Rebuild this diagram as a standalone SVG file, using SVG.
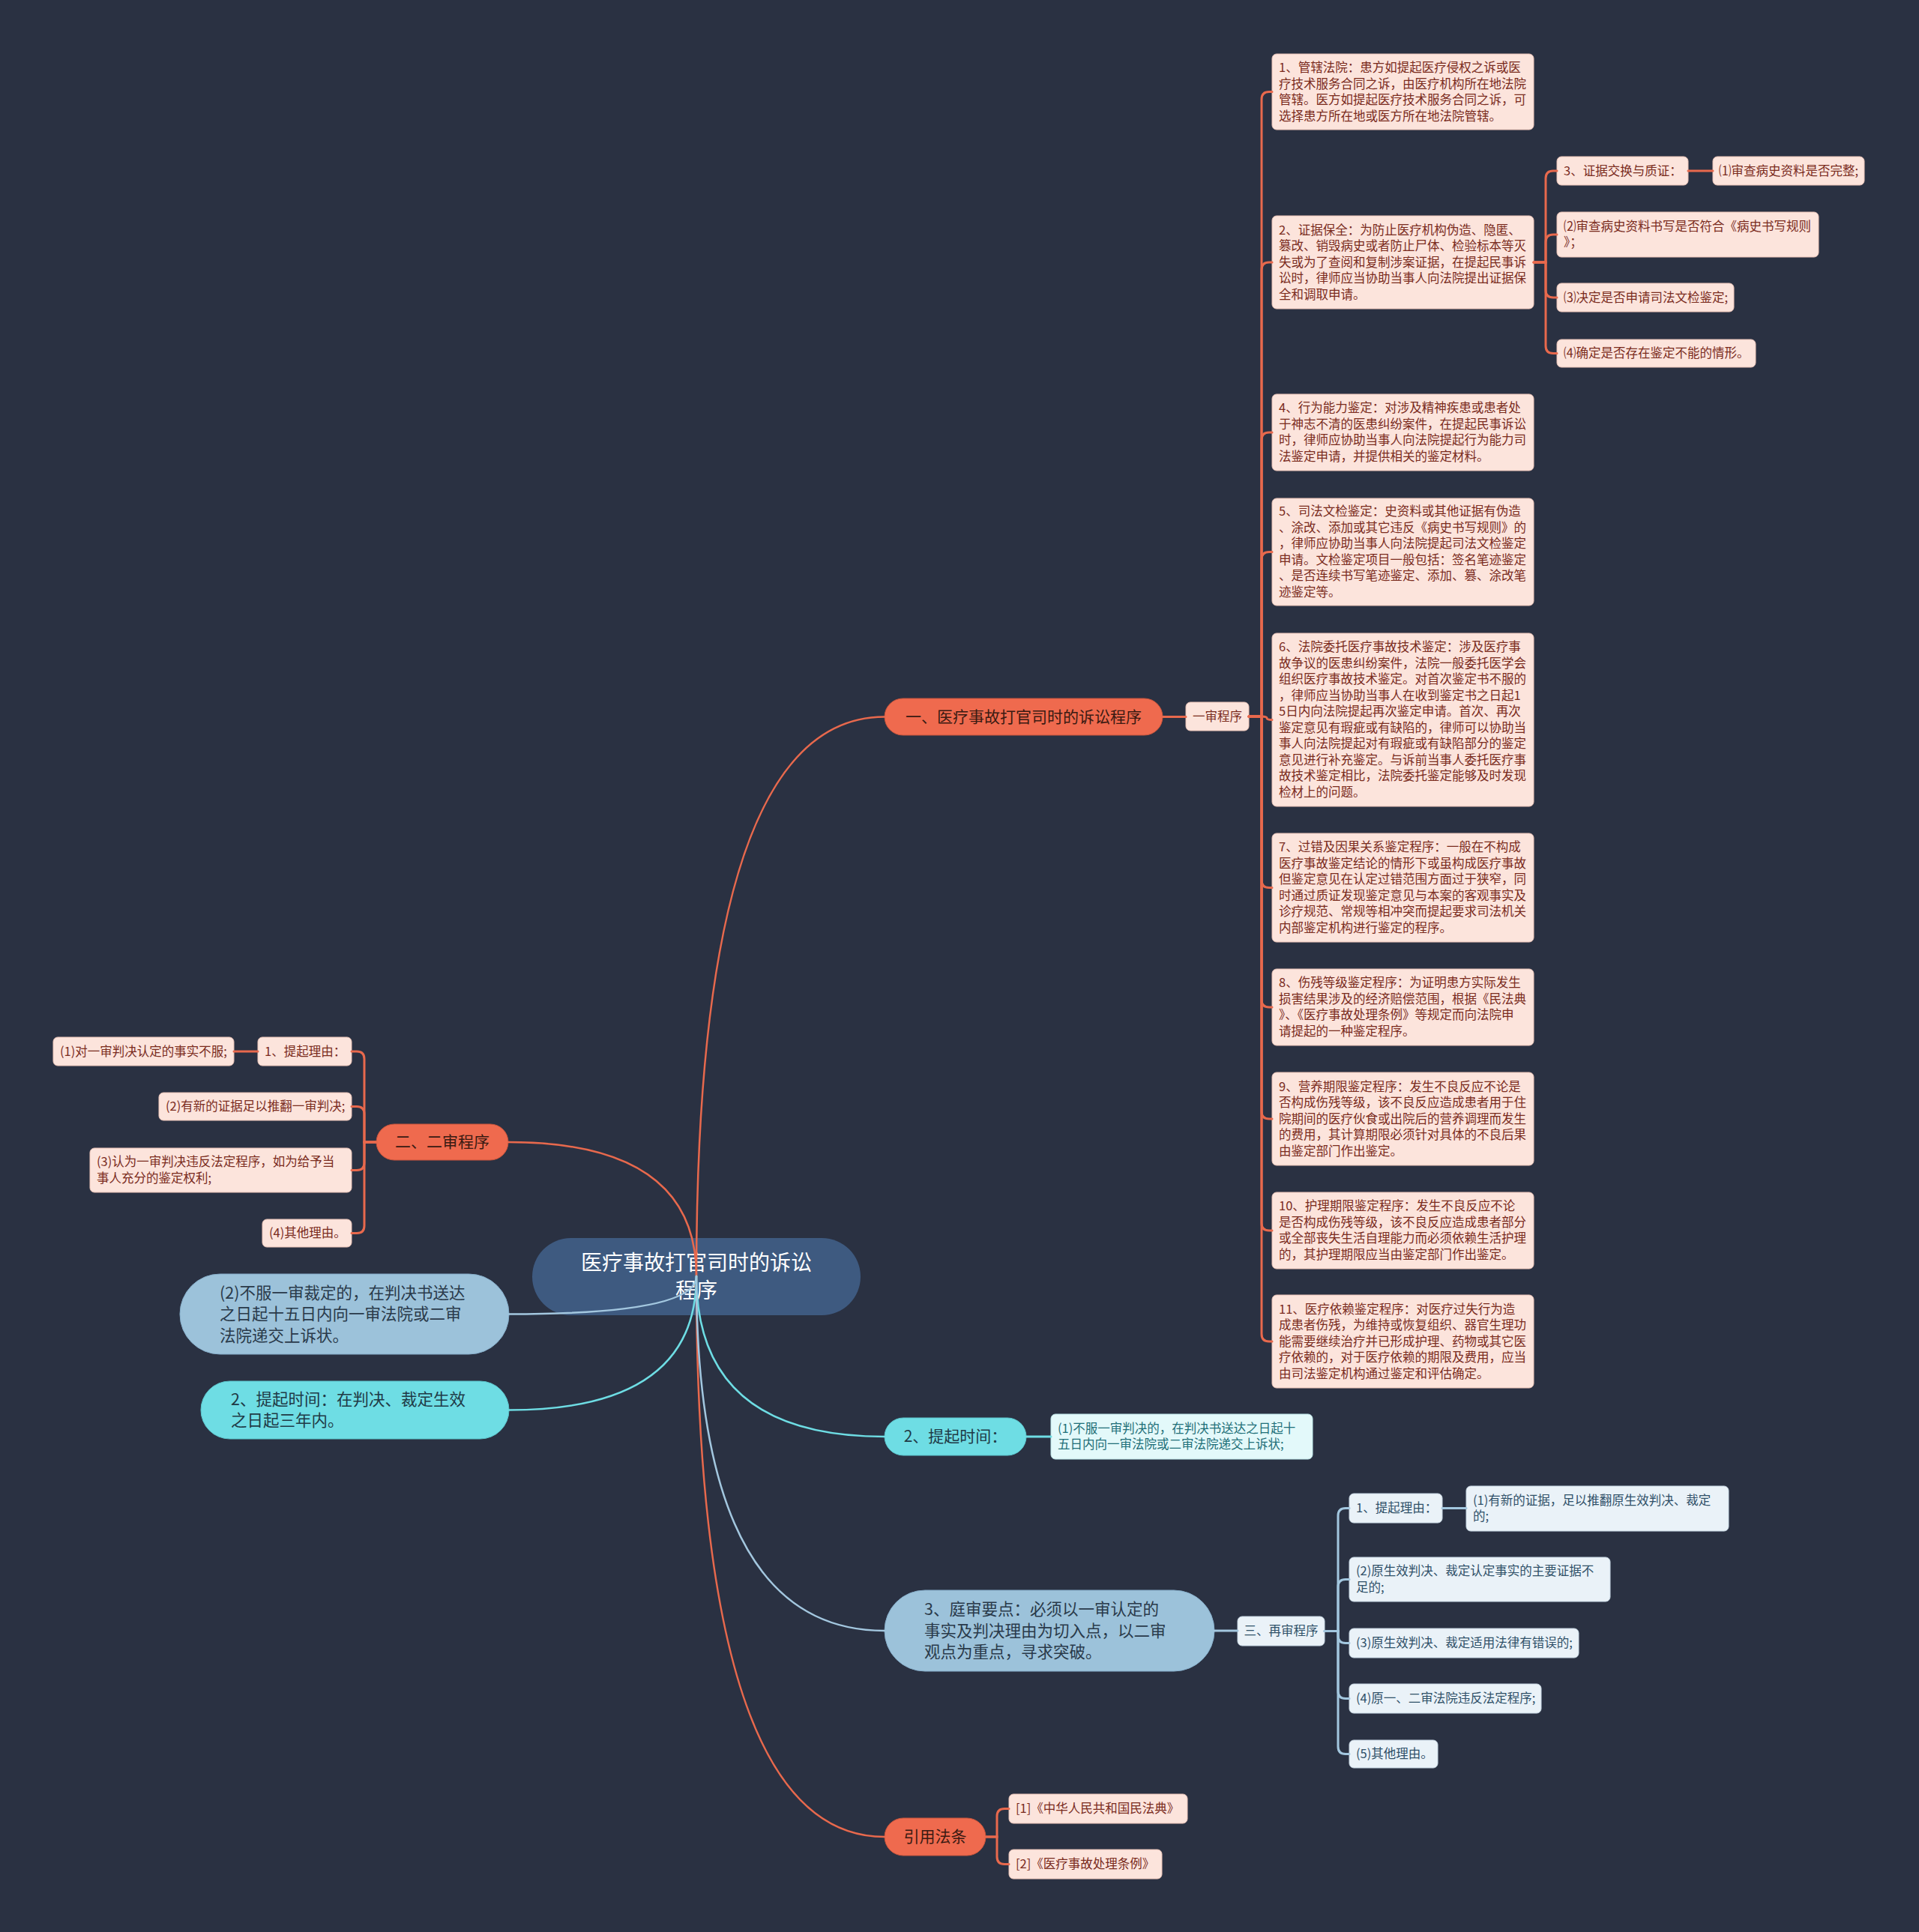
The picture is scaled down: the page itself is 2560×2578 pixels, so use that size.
<svg xmlns="http://www.w3.org/2000/svg" width="2560" height="2578" viewBox="0 0 2560 2578">
<style>
text{font-family:"Noto Sans CJK SC","Noto Sans",sans-serif}
.lo rect{fill:#FCE4DC;stroke:#E9C3B7;stroke-width:1}
.lo text{fill:#7A2B1D;font-size:16.5px}
.lb rect{fill:#EAF2F8;stroke:#C7D7E3;stroke-width:1}
.lb text{fill:#2F5068;font-size:16.5px}
.lc rect{fill:#E3F9FA;stroke:#BDE6E8;stroke-width:1}
.lc text{fill:#1E6F78;font-size:16.5px}
.po rect{fill:#EF6A4E;stroke:#C9553C;stroke-width:1}
.po text{fill:#3A1A12;font-size:21px}
.pb rect{fill:#9CC2DA;stroke:#86AECA;stroke-width:1}
.pb text{fill:#2A3A4A;font-size:21.5px}
.pc rect{fill:#6EDDE4;stroke:#5CC6CD;stroke-width:1}
.pc text{fill:#1F3A46;font-size:21.5px}
.root rect{fill:#3E5A80}
.root text{fill:#FFFFFF;font-size:28px}
.c{fill:none;stroke-linecap:round}
.co{stroke:#E8694D}
.cb{stroke:#A3C7DF}
.cc{stroke:#6EDDE4}
.m{stroke-width:2.5}
.s{stroke-width:3}
</style>
<rect width="2560" height="2578" fill="#2A3142"/>

<g id="root" class="root">
<rect x="710" y="1652" width="438" height="103" rx="51.5"/>
<text x="929" y="1695" text-anchor="middle">医疗事故打官司时的诉讼</text>
<text x="929" y="1732" text-anchor="middle">程序</text>
</g>

<g id="b1" class="po"><rect x="1180" y="932" width="371" height="49" rx="24.5"/><text x="1365.5" y="964" text-anchor="middle">一、医疗事故打官司时的诉讼程序</text></g>
<g id="b1a" class="lo"><rect x="1582" y="937" width="84" height="38" rx="6"/><text x="1624" y="961.8" text-anchor="middle">一审程序</text></g>

<g id="n1" class="lo"><rect x="1697" y="72" width="349" height="101" rx="6"/><text x="1706" y="96"><tspan x="1706">1、管辖法院：患方如提起医疗侵权之诉或医</tspan><tspan x="1706" dy="21.5">疗技术服务合同之诉，由医疗机构所在地法院</tspan><tspan x="1706" dy="21.5">管辖。医方如提起医疗技术服务合同之诉，可</tspan><tspan x="1706" dy="21.5">选择患方所在地或医方所在地法院管辖。</tspan></text></g>
<g id="n2" class="lo"><rect x="1697" y="288" width="349" height="124" rx="6"/><text x="1706" y="312.6"><tspan x="1706">2、证据保全：为防止医疗机构伪造、隐匿、</tspan><tspan x="1706" dy="21.5">篡改、销毁病史或者防止尸体、检验标本等灭</tspan><tspan x="1706" dy="21.5">失或为了查阅和复制涉案证据，在提起民事诉</tspan><tspan x="1706" dy="21.5">讼时，律师应当协助当事人向法院提出证据保</tspan><tspan x="1706" dy="21.5">全和调取申请。</tspan></text></g>
<g id="n2a" class="lo"><rect x="2077" y="209" width="175" height="38" rx="6"/><text x="2086" y="233.8">3、证据交换与质证：</text></g>
<g id="n2a1" class="lo"><rect x="2285" y="209" width="202" height="38" rx="6"/><text x="2293" y="233.8">⑴审查病史资料是否完整;</text></g>
<g id="n2b" class="lo"><rect x="2077" y="283" width="349" height="60" rx="6"/><text x="2086" y="307.9"><tspan x="2086">⑵审查病史资料书写是否符合《病史书写规则</tspan><tspan x="2086" dy="21.5">》；</tspan></text></g>
<g id="n2c" class="lo"><rect x="2077" y="378" width="236" height="38" rx="6"/><text x="2086" y="402.8">⑶决定是否申请司法文检鉴定;</text></g>
<g id="n2d" class="lo"><rect x="2077" y="453" width="265" height="37" rx="6"/><text x="2086" y="477.3">⑷确定是否存在鉴定不能的情形。</text></g>
<g id="n4" class="lo"><rect x="1697" y="526" width="349" height="102" rx="6"/><text x="1706" y="550.4"><tspan x="1706">4、行为能力鉴定：对涉及精神疾患或患者处</tspan><tspan x="1706" dy="21.5">于神志不清的医患纠纷案件，在提起民事诉讼</tspan><tspan x="1706" dy="21.5">时，律师应协助当事人向法院提起行为能力司</tspan><tspan x="1706" dy="21.5">法鉴定申请，并提供相关的鉴定材料。</tspan></text></g>
<g id="n5" class="lo"><rect x="1697" y="665" width="349" height="143" rx="6"/><text x="1706" y="688.4"><tspan x="1706">5、司法文检鉴定：史资料或其他证据有伪造</tspan><tspan x="1706" dy="21.5">、涂改、添加或其它违反《病史书写规则》的</tspan><tspan x="1706" dy="21.5">，律师应协助当事人向法院提起司法文检鉴定</tspan><tspan x="1706" dy="21.5">申请。文检鉴定项目一般包括：签名笔迹鉴定</tspan><tspan x="1706" dy="21.5">、是否连续书写笔迹鉴定、添加、篡、涂改笔</tspan><tspan x="1706" dy="21.5">迹鉴定等。</tspan></text></g>
<g id="n6" class="lo"><rect x="1697" y="845" width="349" height="231" rx="6"/><text x="1706" y="869.4"><tspan x="1706">6、法院委托医疗事故技术鉴定：涉及医疗事</tspan><tspan x="1706" dy="21.5">故争议的医患纠纷案件，法院一般委托医学会</tspan><tspan x="1706" dy="21.5">组织医疗事故技术鉴定。对首次鉴定书不服的</tspan><tspan x="1706" dy="21.5">，律师应当协助当事人在收到鉴定书之日起1</tspan><tspan x="1706" dy="21.5">5日内向法院提起再次鉴定申请。首次、再次</tspan><tspan x="1706" dy="21.5">鉴定意见有瑕疵或有缺陷的，律师可以协助当</tspan><tspan x="1706" dy="21.5">事人向法院提起对有瑕疵或有缺陷部分的鉴定</tspan><tspan x="1706" dy="21.5">意见进行补充鉴定。与诉前当事人委托医疗事</tspan><tspan x="1706" dy="21.5">故技术鉴定相比，法院委托鉴定能够及时发现</tspan><tspan x="1706" dy="21.5">检材上的问题。</tspan></text></g>
<g id="n7" class="lo"><rect x="1697" y="1112" width="349" height="145" rx="6"/><text x="1706" y="1136.4"><tspan x="1706">7、过错及因果关系鉴定程序：一般在不构成</tspan><tspan x="1706" dy="21.5">医疗事故鉴定结论的情形下或虽构成医疗事故</tspan><tspan x="1706" dy="21.5">但鉴定意见在认定过错范围方面过于狭窄，同</tspan><tspan x="1706" dy="21.5">时通过质证发现鉴定意见与本案的客观事实及</tspan><tspan x="1706" dy="21.5">诊疗规范、常规等相冲突而提起要求司法机关</tspan><tspan x="1706" dy="21.5">内部鉴定机构进行鉴定的程序。</tspan></text></g>
<g id="n8" class="lo"><rect x="1697" y="1293" width="349" height="102" rx="6"/><text x="1706" y="1317.4"><tspan x="1706">8、伤残等级鉴定程序：为证明患方实际发生</tspan><tspan x="1706" dy="21.5">损害结果涉及的经济赔偿范围，根据《民法典</tspan><tspan x="1706" dy="21.5">》、《医疗事故处理条例》等规定而向法院申</tspan><tspan x="1706" dy="21.5">请提起的一种鉴定程序。</tspan></text></g>
<g id="n9" class="lo"><rect x="1697" y="1431" width="349" height="124" rx="6"/><text x="1706" y="1455.6"><tspan x="1706">9、营养期限鉴定程序：发生不良反应不论是</tspan><tspan x="1706" dy="21.5">否构成伤残等级，该不良反应造成患者用于住</tspan><tspan x="1706" dy="21.5">院期间的医疗伙食或出院后的营养调理而发生</tspan><tspan x="1706" dy="21.5">的费用，其计算期限必须针对具体的不良后果</tspan><tspan x="1706" dy="21.5">由鉴定部门作出鉴定。</tspan></text></g>
<g id="n10" class="lo"><rect x="1697" y="1591" width="349" height="102" rx="6"/><text x="1706" y="1615.4"><tspan x="1706">10、护理期限鉴定程序：发生不良反应不论</tspan><tspan x="1706" dy="21.5">是否构成伤残等级，该不良反应造成患者部分</tspan><tspan x="1706" dy="21.5">或全部丧失生活自理能力而必须依赖生活护理</tspan><tspan x="1706" dy="21.5">的，其护理期限应当由鉴定部门作出鉴定。</tspan></text></g>
<g id="n11" class="lo"><rect x="1697" y="1728" width="349" height="124" rx="6"/><text x="1706" y="1752.6"><tspan x="1706">11、医疗依赖鉴定程序：对医疗过失行为造</tspan><tspan x="1706" dy="21.5">成患者伤残，为维持或恢复组织、器官生理功</tspan><tspan x="1706" dy="21.5">能需要继续治疗并已形成护理、药物或其它医</tspan><tspan x="1706" dy="21.5">疗依赖的，对于医疗依赖的期限及费用，应当</tspan><tspan x="1706" dy="21.5">由司法鉴定机构通过鉴定和评估确定。</tspan></text></g>

<g id="b2" class="po"><rect x="502" y="1500" width="176" height="48" rx="24"/><text x="590" y="1531.4" text-anchor="middle">二、二审程序</text></g>
<g id="b2a" class="lo"><rect x="344" y="1384" width="125" height="38" rx="6"/><text x="353" y="1408.8">1、提起理由：</text></g>
<g id="b2a1" class="lo"><rect x="71" y="1384" width="241" height="38" rx="6"/><text x="80" y="1408.8">(1)对一审判决认定的事实不服;</text></g>
<g id="b2b" class="lo"><rect x="212" y="1458" width="257" height="37" rx="6"/><text x="221" y="1482.3">(2)有新的证据足以推翻一审判决;</text></g>
<g id="b2c" class="lo"><rect x="120" y="1532" width="349" height="59" rx="6"/><text x="129" y="1556.4"><tspan x="129">(3)认为一审判决违反法定程序，如为给予当</tspan><tspan x="129" dy="21.5">事人充分的鉴定权利;</tspan></text></g>
<g id="b2d" class="lo"><rect x="350" y="1627" width="119" height="37" rx="6"/><text x="359" y="1651.3">(4)其他理由。</text></g>

<g id="b3" class="pb"><rect x="240" y="1700" width="439" height="107" rx="53.5"/><text x="293" y="1733"><tspan x="293">(2)不服一审裁定的，在判决书送达</tspan><tspan x="293" dy="28.3">之日起十五日内向一审法院或二审</tspan><tspan x="293" dy="28.3">法院递交上诉状。</tspan></text></g>
<g id="b4" class="pc"><rect x="268" y="1843" width="411" height="77" rx="38.5"/><text x="308" y="1875"><tspan x="308">2、提起时间：在判决、裁定生效</tspan><tspan x="308" dy="28.3">之日起三年内。</tspan></text></g>

<g id="b5" class="pc"><rect x="1180" y="1892" width="189" height="50" rx="25"/><text x="1274.5" y="1924.4" text-anchor="middle" style="font-size:21px">2、提起时间：</text></g>
<g id="b5a" class="lc"><rect x="1402" y="1887" width="349" height="60" rx="6"/><text x="1411" y="1911.9"><tspan x="1411">(1)不服一审判决的，在判决书送达之日起十</tspan><tspan x="1411" dy="21.5">五日内向一审法院或二审法院递交上诉状;</tspan></text></g>

<g id="b6" class="pb"><rect x="1180" y="2122" width="440" height="108" rx="54"/><text x="1233" y="2155.4"><tspan x="1233">3、庭审要点：必须以一审认定的</tspan><tspan x="1233" dy="28.3">事实及判决理由为切入点，以二审</tspan><tspan x="1233" dy="28.3">观点为重点，寻求突破。</tspan></text></g>
<g id="b6a" class="lb"><rect x="1651" y="2157" width="116" height="39" rx="6"/><text x="1709" y="2182.3" text-anchor="middle">三、再审程序</text></g>
<g id="b6a1" class="lb"><rect x="1800" y="1993" width="124" height="39" rx="6"/><text x="1809" y="2018.3">1、提起理由：</text></g>
<g id="b6a1a" class="lb"><rect x="1956" y="1983" width="350" height="60" rx="6"/><text x="1965" y="2007.9"><tspan x="1965">(1)有新的证据，足以推翻原生效判决、裁定</tspan><tspan x="1965" dy="21.5">的;</tspan></text></g>
<g id="b6a2" class="lb"><rect x="1800" y="2078" width="348" height="59" rx="6"/><text x="1809" y="2102.4"><tspan x="1809">(2)原生效判决、裁定认定事实的主要证据不</tspan><tspan x="1809" dy="21.5">足的;</tspan></text></g>
<g id="b6a3" class="lb"><rect x="1800" y="2173" width="306" height="39" rx="6"/><text x="1809" y="2198.3">(3)原生效判决、裁定适用法律有错误的;</text></g>
<g id="b6a4" class="lb"><rect x="1800" y="2247" width="256" height="39" rx="6"/><text x="1809" y="2272.3">(4)原一、二审法院违反法定程序;</text></g>
<g id="b6a5" class="lb"><rect x="1800" y="2322" width="118" height="37" rx="6"/><text x="1809" y="2346.3">(5)其他理由。</text></g>

<g id="b7" class="po"><rect x="1180" y="2426" width="135" height="50" rx="25"/><text x="1247.5" y="2458.4" text-anchor="middle">引用法条</text></g>
<g id="b7a" class="lo"><rect x="1346" y="2394" width="238" height="39" rx="6"/><text x="1355" y="2419.3">[1]《中华人民共和国民法典》</text></g>
<g id="b7b" class="lo"><rect x="1346" y="2468" width="204" height="39" rx="6"/><text x="1355" y="2493.3">[2]《医疗事故处理条例》</text></g>

<g id="connectors">
<path class="c co m" d="M929,1703 Q929,956.5 1180,956.5"/>
<path class="c co m" d="M929,1703 Q929,1524 678,1524"/>
<path class="c co m" d="M929,1703 Q929,2451 1180,2451"/>
<path class="c cb m" d="M929,1703 Q929,1753.5 679,1753.5"/>
<path class="c cc m" d="M929,1703 Q929,1881.5 679,1881.5"/>
<path class="c cc m" d="M929,1703 Q929,1917 1180,1917"/>
<path class="c cb m" d="M929,1703 Q929,2176 1180,2176"/>

<path class="c co s" d="M1551,956.5 H1582"/>
<path class="c co s" d="M1666,956 H1683 V132.5 Q1683,122.5 1693,122.5 H1697"/>
<path class="c co s" d="M1666,956 H1683 V360 Q1683,350 1693,350 H1697"/>
<path class="c co s" d="M1666,956 H1683 V587 Q1683,577 1693,577 H1697"/>
<path class="c co s" d="M1666,956 H1683 V746.5 Q1683,736.5 1693,736.5 H1697"/>
<path class="c co s" d="M1666,956 H1683 Q1690,956 1690,958 Q1690,960.5 1697,960.5"/>
<path class="c co s" d="M1666,956 H1683 V1174.5 Q1683,1184.5 1693,1184.5 H1697"/>
<path class="c co s" d="M1666,956 H1683 V1334 Q1683,1344 1693,1344 H1697"/>
<path class="c co s" d="M1666,956 H1683 V1483 Q1683,1493 1693,1493 H1697"/>
<path class="c co s" d="M1666,956 H1683 V1632 Q1683,1642 1693,1642 H1697"/>
<path class="c co s" d="M1666,956 H1683 V1780 Q1683,1790 1693,1790 H1697"/>

<path class="c co s" d="M2046,350 H2062 V238 Q2062,228 2072,228 H2077"/>
<path class="c co s" d="M2046,350 H2062 V323 Q2062,313 2072,313 H2077"/>
<path class="c co s" d="M2046,350 H2062 V387 Q2062,397 2072,397 H2077"/>
<path class="c co s" d="M2046,350 H2062 V461.5 Q2062,471.5 2072,471.5 H2077"/>
<path class="c co s" d="M2252,228 H2285"/>

<path class="c co s" d="M502,1524 H486 V1413 Q486,1403 476,1403 H469"/>
<path class="c co s" d="M502,1524 H486 V1486.5 Q486,1476.5 476,1476.5 H469"/>
<path class="c co s" d="M502,1524 H486 V1551.5 Q486,1561.5 476,1561.5 H469"/>
<path class="c co s" d="M502,1524 H486 V1635.5 Q486,1645.5 476,1645.5 H469"/>
<path class="c co s" d="M344,1403 H312"/>

<path class="c cc s" d="M1369,1917 H1402"/>

<path class="c cb s" d="M1620,2176 H1651"/>
<path class="c cb s" d="M1767,2176.5 H1785 V2022.5 Q1785,2012.5 1795,2012.5 H1800"/>
<path class="c cb s" d="M1767,2176.5 H1785 V2117.5 Q1785,2107.5 1795,2107.5 H1800"/>
<path class="c cb s" d="M1767,2176.5 H1785 V2182.5 Q1785,2192.5 1795,2192.5 H1800"/>
<path class="c cb s" d="M1767,2176.5 H1785 V2256.5 Q1785,2266.5 1795,2266.5 H1800"/>
<path class="c cb s" d="M1767,2176.5 H1785 V2330.5 Q1785,2340.5 1795,2340.5 H1800"/>
<path class="c cb s" d="M1924,2012.5 H1956"/>

<path class="c co s" d="M1315,2451 H1330 V2423.5 Q1330,2413.5 1340,2413.5 H1346"/>
<path class="c co s" d="M1315,2451 H1330 V2477.5 Q1330,2487.5 1340,2487.5 H1346"/>
</g>
</svg>
